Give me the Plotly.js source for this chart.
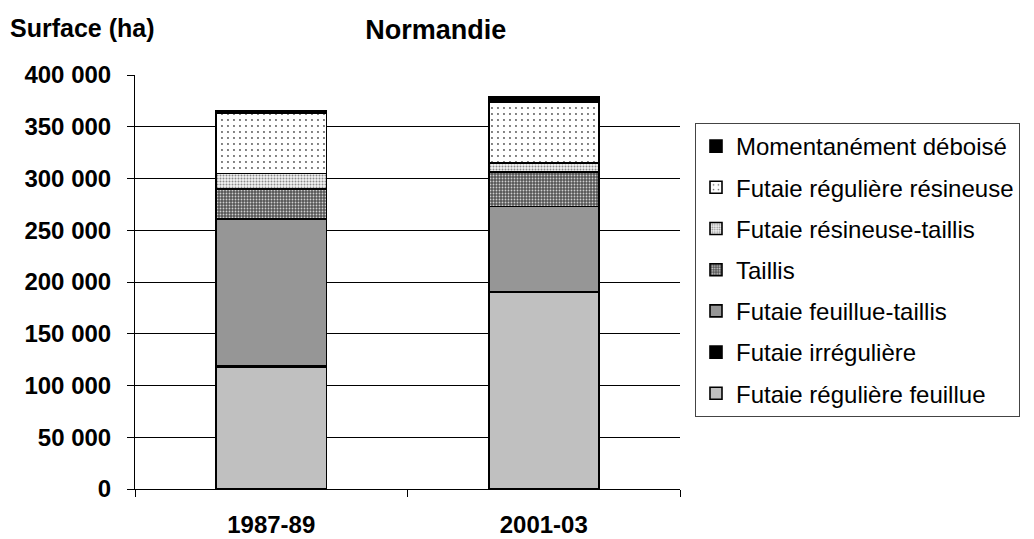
<!DOCTYPE html>
<html><head><meta charset="utf-8">
<script src="https://cdn.plot.ly/plotly-3.0.1.min.js"></script>
<style>body{margin:0;background:#fff}#chart{width:1034px;height:539px}</style>
</head><body><div id="chart"></div>
<script>
const categories = ["1987-89", "2001-03"];
const futaieReguliereFeuillue = [118000, 190000];
const futaieIrreguliere = [1000, 1000];
const futaieFeuillueTaillis = [142000, 82000];
const taillis = [29000, 33000];
const futaieResineuseTaillis = [15000, 9000];
const futaieReguliereResineuse = [58000, 59000];
const momentanementDeboise = [2000, 5000];
const yTicks = [0, 50000, 100000, 150000, 200000, 250000, 300000, 350000, 400000];

const seriesDefs = [
  {name: "Futaie régulière feuillue", y: futaieReguliereFeuillue, color: "#C0C0C0", pattern: null},
  {name: "Futaie irrégulière", y: futaieIrreguliere, color: "#000000", pattern: null},
  {name: "Futaie feuillue-taillis", y: futaieFeuillueTaillis, color: "#969696", pattern: null},
  {name: "Taillis", y: taillis, color: "#555555", pattern: {shape: ".", bgcolor: "#555555", fgcolor: "#cfcfcf", size: 3, solidity: 0.3}},
  {name: "Futaie résineuse-taillis", y: futaieResineuseTaillis, color: "#ffffff", pattern: {shape: ".", bgcolor: "#f4f4f4", fgcolor: "#8a8a8a", size: 3, solidity: 0.35}},
  {name: "Futaie régulière résineuse", y: futaieReguliereResineuse, color: "#ffffff", pattern: {shape: ".", bgcolor: "#ffffff", fgcolor: "#555555", size: 6, solidity: 0.08}},
  {name: "Momentanément déboisé", y: momentanementDeboise, color: "#000000", pattern: null}
];

const traces = seriesDefs.map((s, i) => {
  const m = {color: s.color, line: {color: "#000", width: 1.6}};
  if (s.pattern) m.pattern = Object.assign({fillmode: "replace"}, s.pattern);
  return {type: "bar", name: s.name, x: categories, y: s.y, marker: m, width: 0.404,
          legendgroup: "g" + i, legendrank: 1000 - i};
});

const layout = {
  width: 1034, height: 539,
  paper_bgcolor: "#fff", plot_bgcolor: "#fff",
  font: {family: "Liberation Sans, Arial, sans-serif", color: "#000"},
  separators: ", ",
  barmode: "stack",
  margin: {l: 135, r: 354, t: 75, b: 50, pad: 0},
  title: {text: "<b>Normandie</b>", font: {size: 27}, xref: "paper", x: 0.552, xanchor: "center", yref: "container", y: 1 - 30/539, yanchor: "middle"},
  xaxis: {type: "category", showline: true, linecolor: "#000", linewidth: 1, ticks: "outside", tickson: "boundaries", ticklen: 7, tickcolor: "#000",
          tickfont: {size: 24, weight: "bold"}, showgrid: false, range: [-0.5, 1.5], ticklabelstandoff: 14},
  yaxis: {range: [0, 400000], tickvals: yTicks, tickformat: ",d", showline: true, linecolor: "#000", linewidth: 1,
          ticks: "outside", ticklen: 7, tickcolor: "#000", gridcolor: "#000", gridwidth: 1, zeroline: false,
          tickfont: {size: 24, weight: "bold"}, ticklabelstandoff: 11},
  legend: {x: (695 - 135) / 545, xanchor: "left", y: (489 - 123) / 414, yanchor: "top", traceorder: "grouped", bordercolor: "#444", borderwidth: 1,
           font: {size: 24}, tracegroupgap: 7, itemwidth: 30},
  annotations: [{text: "<b>Surface (ha)</b>", xref: "paper", yref: "paper", x: (8 - 135) / 545, y: (489 - 28) / 414, xanchor: "left", yanchor: "middle",
                 showarrow: false, font: {size: 25}}]
};
Plotly.newPlot("chart", traces, layout, {displayModeBar: false});
</script></body></html>
